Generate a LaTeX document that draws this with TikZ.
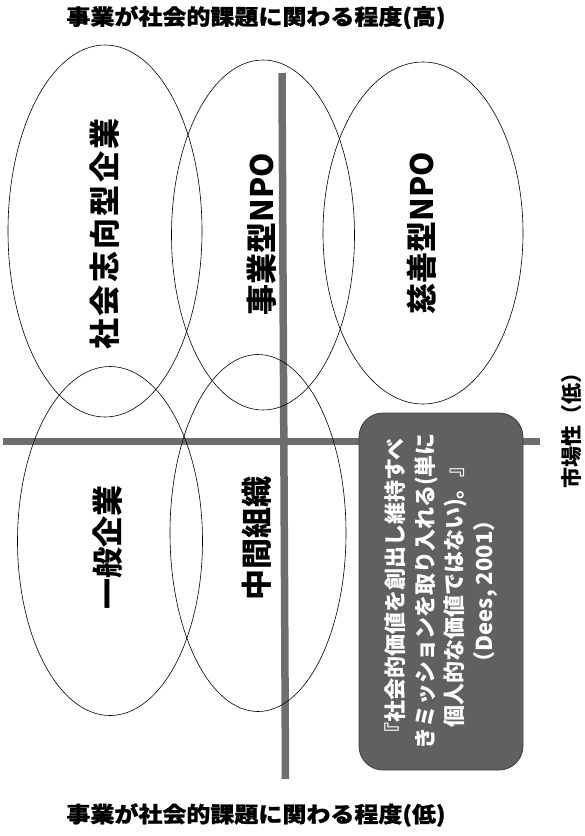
\documentclass[tikz,border=0pt]{standalone}
\usepackage{fontspec}
\setmainfont{Noto Sans CJK JP}
\usepackage{graphicx}
\usetikzlibrary{shapes.geometric}
\definecolor{barcol}{HTML}{6E6E6E}
\definecolor{boxfill}{HTML}{606060}
\definecolor{boxline}{HTML}{3F3F3F}
\begin{document}
\begin{tikzpicture}[x=1pt,y=-1pt,
  oval/.style={draw=black, line width=0.6pt, ellipse, inner sep=0pt},
  bigl/.style={font=\fontsize{31}{31}\selectfont\bfseries, rotate=90, inner sep=0pt},
  axbar/.style={draw=barcol, line width=7.5pt},
  axlab/.style={font=\fontsize{24}{24}\selectfont\bfseries\addfontfeature{FakeBold=1}, inner sep=0pt},
]
\useasboundingbox (0,0) rectangle (585,836);
% axes
\coordinate (vt) at (282,73);
\coordinate (vb) at (285.5,779);
\coordinate (hl) at (3,441.5);
\coordinate (hr) at (540,441.5);
\draw[axbar] (vt) -- (vb);
\draw[axbar] (hl) -- (hr);
% quote box
\node[draw=boxline, fill=boxfill, rounded corners=24pt, rotate=90,
      minimum width=357pt, minimum height=164pt, line width=0.8pt,
      text=white, align=center, inner sep=0pt,
      font=\fontsize{22}{29.5}\selectfont\bfseries] (quote) at (441,591.5)
  {『社会的価値を創出し維持すべ\\きミッションを取り入れる(単に\\個人的な価値ではない)。』\\（Dees, 2001）};
% ellipses
\node[oval, minimum width=194pt, minimum height=372pt] (e1) at (105,231) {};
\node[oval, minimum width=183pt, minimum height=350pt] (e2) at (263,235) {};
\node[oval, minimum width=200pt, minimum height=342pt] (e3) at (423,233) {};
\node[oval, minimum width=185pt, minimum height=349pt] (e4) at (110,541) {};
\node[oval, minimum width=176pt, minimum height=357pt] (e5) at (258,533) {};
% labels
\node[bigl] (l1) at (105,234) {\addfontfeature{LetterSpace=8}社会志向型企業};
\node[bigl] (l2) at (262,234) {事業型NPO};
\node[bigl] (l3) at (422,233) {慈善型NPO};
\node[bigl] (l4) at (108,547) {一般企業};
\node[bigl] (l5) at (257,538) {中間組織};
% axis labels
\node[axlab] (top) at (256,17.5) {\scalebox{1}[0.9]{事業が社会的課題に関わる程度(高)}};
\node[axlab] (bot) at (256,815) {\scalebox{1}[0.9]{事業が社会的課題に関わる程度(低)}};
\node[font=\fontsize{21}{21}\selectfont\bfseries, rotate=90, inner sep=0pt] (mk) at (572,425) {市場性（低）};
\end{tikzpicture}
\end{document}
